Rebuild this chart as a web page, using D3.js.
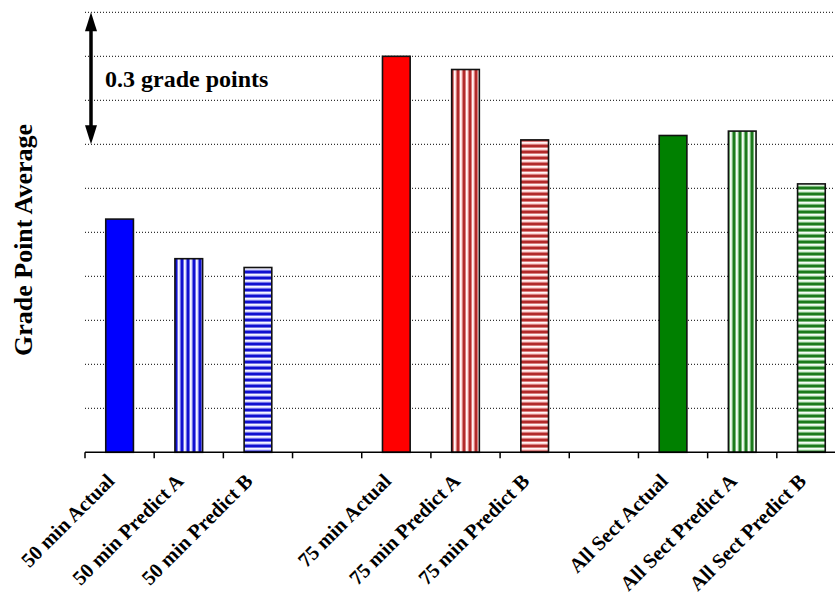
<!DOCTYPE html>
<html>
<head>
<meta charset="utf-8">
<script src="https://cdn.jsdelivr.net/npm/d3@7"></script>
<style>
  html, body { margin: 0; padding: 0; background: #fff; }
  svg { display: block; }
  text { font-family: "Liberation Serif", "Times New Roman", serif; font-weight: bold; fill: #000; }
</style>
</head>
<body>
<svg id="chart" width="835" height="600"></svg>
<script>
// Category slots (empty strings are spacer slots between groups)
const categories = [
  "50 min Actual", "50 min Predict A", "50 min Predict B", "",
  "75 min Actual", "75 min Predict A", "75 min Predict B", "",
  "All Sect Actual", "All Sect Predict A", "All Sect Predict B"
];
// Grade point averages per slot
const gpa = [2.53, 2.44, 2.42, null, 2.90, 2.87, 2.71, null, 2.72, 2.73, 2.61];
// Colour family and fill style per slot
const family = ["blue", "blue", "blue", null, "red", "red", "red", null, "green", "green", "green"];
const style = ["solid", "vstripe", "hstripe", null, "solid", "vstripe", "hstripe", null, "solid", "vstripe", "hstripe"];
// Grid values (0.1 grade point apart)
const gridValues = [2.0, 2.1, 2.2, 2.3, 2.4, 2.5, 2.6, 2.7, 2.8, 2.9, 3.0];
const yDomain = [2.0, 3.0];
const spanTop = 3.0, spanBottom = 2.7;
const spanLabel = "0.3 grade points";
const yTitle = "Grade Point Average";

const palette = {
  blue:  { solid: "#0000ff", dark: "#1010d0", light: "#d4d4ff" },
  red:   { solid: "#ff0000", dark: "#b22a2a", light: "#ffd2d2" },
  green: { solid: "#008000", dark: "#1c7a1c", light: "#d4f0d4" }
};

const svg = d3.select("#chart");
const plot = { left: 85, right: 846, top: 12.3, bottom: 452.3 };

const x = d3.scaleBand()
  .domain(d3.range(categories.length))
  .range([plot.left, plot.right])
  .paddingInner(0.6)
  .paddingOuter(0.3);

const y = d3.scaleLinear().domain(yDomain).range([plot.bottom, plot.top]);

// Stripe patterns
const defs = svg.append("defs");
Object.entries(palette).forEach(([name, c]) => {
  const pv = defs.append("pattern")
    .attr("id", `v-${name}`).attr("patternUnits", "userSpaceOnUse")
    .attr("width", 6).attr("height", 6);
  pv.append("rect").attr("width", 6).attr("height", 6).attr("fill", c.light);
  pv.append("rect").attr("x", 4.2).attr("width", 0.9).attr("height", 6).attr("fill", "#ffffff");
  pv.append("rect").attr("x", 0.5).attr("width", 3).attr("height", 6).attr("fill", c.dark);

  const ph = defs.append("pattern")
    .attr("id", `h-${name}`).attr("patternUnits", "userSpaceOnUse")
    .attr("width", 6).attr("height", 6);
  ph.append("rect").attr("width", 6).attr("height", 6).attr("fill", c.light);
  ph.append("rect").attr("y", 4.2).attr("height", 0.9).attr("width", 6).attr("fill", "#ffffff");
  ph.append("rect").attr("y", 0.5).attr("height", 3).attr("width", 6).attr("fill", c.dark);
});

// Dotted horizontal grid
svg.append("g")
  .selectAll("line")
  .data(gridValues.filter(v => v > yDomain[0]))
  .join("line")
  .attr("x1", plot.left).attr("x2", 835)
  .attr("y1", d => y(d)).attr("y2", d => y(d))
  .attr("stroke", "#000").attr("stroke-width", 1)
  .attr("stroke-dasharray", "1,2");

// Bars
const barData = categories.map((c, i) => ({ i, c, v: gpa[i], f: family[i], s: style[i] }))
  .filter(d => d.v != null);

function barFill(d) {
  if (d.s === "solid") return palette[d.f].solid;
  return `url(#${d.s === "vstripe" ? "v" : "h"}-${d.f})`;
}

svg.append("g")
  .selectAll("rect")
  .data(barData)
  .join("rect")
  .attr("x", d => x(d.i))
  .attr("width", x.bandwidth())
  .attr("y", d => y(d.v))
  .attr("height", d => y(yDomain[0]) - y(d.v))
  .attr("fill", barFill)
  .attr("stroke", "#111")
  .attr("stroke-width", 1.6);

// X axis line with ticks at slot boundaries
const step = x.step();
const tickPos = d3.range(categories.length + 1).map(i => plot.left + i * step);
const axis = svg.append("g");
axis.append("line")
  .attr("x1", plot.left).attr("x2", 835)
  .attr("y1", plot.bottom).attr("y2", plot.bottom)
  .attr("stroke", "#000").attr("stroke-width", 1.5);
axis.selectAll("line.tick")
  .data(tickPos)
  .join("line").attr("class", "tick")
  .attr("x1", d => d).attr("x2", d => d)
  .attr("y1", plot.bottom).attr("y2", plot.bottom + 6)
  .attr("stroke", "#000").attr("stroke-width", 1.5);

// Rotated category labels
svg.append("g")
  .selectAll("text")
  .data(categories.map((c, i) => ({ c, i })).filter(d => d.c !== ""))
  .join("text")
  .attr("transform", d => `translate(${x(d.i) + x.bandwidth() / 2 - 4},${plot.bottom + 30}) rotate(-45)`)
  .attr("text-anchor", "end")
  .attr("font-size", 20.5)
  .text(d => d.c);

// Y axis title
svg.append("text")
  .attr("transform", `translate(32,240) rotate(-90)`)
  .attr("text-anchor", "middle")
  .attr("font-size", 26)
  .text(yTitle);

// Span arrow marking 0.3 grade points
const ax = 91;
const yTop = y(spanTop), yBot = y(spanBottom);
const headLen = 19, headHalf = 6;
svg.append("line")
  .attr("x1", ax).attr("x2", ax)
  .attr("y1", yTop + headLen - 2).attr("y2", yBot - headLen + 2)
  .attr("stroke", "#000").attr("stroke-width", 3.5);
svg.append("path")
  .attr("d", `M${ax},${yTop} L${ax - headHalf},${yTop + headLen} L${ax + headHalf},${yTop + headLen} Z`)
  .attr("fill", "#000");
svg.append("path")
  .attr("d", `M${ax},${yBot} L${ax - headHalf},${yBot - headLen} L${ax + headHalf},${yBot - headLen} Z`)
  .attr("fill", "#000");
svg.append("text")
  .attr("x", 105).attr("y", 87)
  .attr("font-size", 24)
  .text(spanLabel);
</script>
</body>
</html>
